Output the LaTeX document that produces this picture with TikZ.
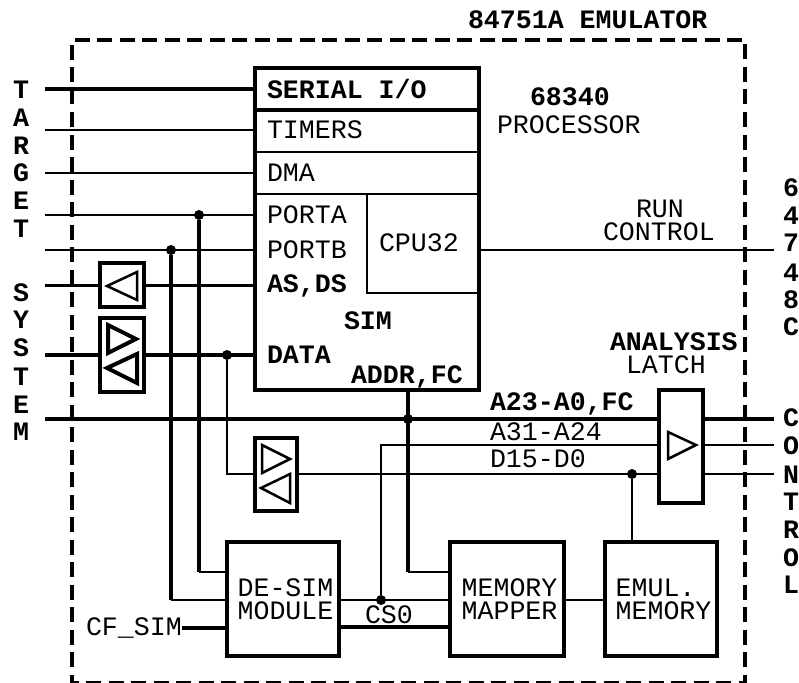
\documentclass[tikz,border=0pt]{standalone}
\usepackage{fontspec}
\setmainfont{Liberation Mono}
\usepackage{tikz}
\usetikzlibrary{positioning}
\tikzset{
  blockbox/.style={rectangle,draw=black,line width=4pt,outer sep=0pt,inner sep=0pt,align=left,font=\fontsize{26.6}{23}\selectfont},
  buffbox/.style={rectangle,draw=black,line width=4pt,outer sep=0pt,inner sep=0pt},
  txt/.style={inner sep=0pt,outer sep=0pt,anchor=west,font=\fontsize{26.6}{23}\selectfont},
  txtb/.style={txt,font=\fontsize{26.6}{23}\selectfont\bfseries},
  vtxt/.style={inner sep=0pt,outer sep=0pt,font=\fontsize{26.6}{23}\selectfont\bfseries},
  dot/.style={circle,fill=black,inner sep=0pt,minimum size=10pt},
  thinwire/.style={line width=2.3pt,draw=black},
  thickwire/.style={line width=4pt,draw=black},
  tri/.style={line width=2.5pt,draw=black,line join=miter},
  trib/.style={line width=4pt,draw=black,line join=miter},
  frame/.style={line width=4pt,draw=black,dash pattern=on 15pt off 7.5pt}
}
\begin{document}
\begin{tikzpicture}[x=1pt,y=-1pt]
  \useasboundingbox (0,0) rectangle (799,682);
  \draw[frame] (72,60) -- (72,40) -- (745,40) -- (745,683) -- (72,683) -- cycle;
  \node[txtb] (title) at (468,20) {84751A EMULATOR};

  % processor block
  \node[blockbox,minimum width=224pt,minimum height=322pt] (chip) at (367,229) {};
  \coordinate (divA) at (255,110);
  \coordinate (divB) at (255,152);
  \coordinate (divC) at (255,194);
  \draw[thickwire] (divA) -- (divA -| chip.east);
  \draw[thinwire] (divB) -- (divB -| chip.east);
  \draw[thinwire] (divC) -- (divC -| chip.east);
  \coordinate (cpuA) at (367,194);
  \coordinate (cpuB) at (367,293);
  \draw[thinwire] (cpuA) -- (cpuB) -- (cpuB -| chip.east);
  \node[txtb] (serial) at (267,89) {SERIAL I/O};
  \node[txt] (timers) at (267,130) {TIMERS};
  \node[txt] (dma) at (267,173) {DMA};
  \node[txt] (porta) at (267,215) {PORTA};
  \node[txt] (portb) at (267,250) {PORTB};
  \node[txtb] (asds) at (267,286) {AS,DS};
  \node[txtb] (sim) at (344,321) {SIM};
  \node[txtb] (data) at (267,355) {DATA};
  \node[txtb] (addr) at (351,377) {ADDR,FC};
  \node[txt] (cpu) at (379,243) {CPU32};
  \node[txtb] (proca) at (530,97) {68340};
  \node[txt] (procb) at (497,125) {PROCESSOR};
  \node[txt] (runa) at (636,209) {RUN};
  \node[txt] (runb) at (603,232) {CONTROL};
  \node[txtb] (lata) at (610,342) {ANALYSIS};
  \node[txt] (latb) at (626,365) {LATCH};
  \node[txtb] (busa) at (490,404) {A23-A0,FC};
  \node[txt] (busb) at (490,432) {A31-A24};
  \node[txt] (busc) at (490,459) {D15-D0};

  % lower blocks
  \node[blockbox,minimum width=112pt,minimum height=114pt] (desim) at (283,599) {\hspace*{5pt}DE-SIM\\\hspace*{5pt}MODULE};
  \node[blockbox,minimum width=114pt,minimum height=114pt] (mapper) at (507,599) {\hspace*{5pt}MEMORY\\\hspace*{5pt}MAPPER};
  \node[blockbox,minimum width=112pt,minimum height=114pt] (emul) at (661,599) {\hspace*{5pt}EMUL.\\\hspace*{5pt}MEMORY};
  \node[txt] (cfsim) at (86,628) {CF\_SIM};
  \node[txt] (csel) at (365,615) {CS0};

  % buffers and latch
  \node[buffbox,minimum width=44pt,minimum height=44pt] (buffa) at (122,285) {};
  \node[buffbox,minimum width=44pt,minimum height=74pt] (buffb) at (122,355) {};
  \node[buffbox,minimum width=42pt,minimum height=73pt] (buffc) at (276,474.5) {};
  \node[buffbox,minimum width=44pt,minimum height=113pt] (latch) at (681,446.5) {};
  \draw[tri] (107,286) -- (137,272) -- (137,300) -- cycle;
  \draw[trib] (108,325) -- (136,339) -- (108,353) -- cycle;
  \draw[trib] (107,368) -- (137,354) -- (137,383) -- cycle;
  \draw[tri] (262,445) -- (290,459) -- (262,473) -- cycle;
  \draw[tri] (261,488) -- (290,474) -- (290,503) -- cycle;
  \draw[tri] (668,432) -- (696,445) -- (668,459) -- cycle;

  % left side wires
  \coordinate (tgtA) at (45,89.5);
  \coordinate (tgtB) at (45,130);
  \coordinate (tgtC) at (45,173);
  \coordinate (tgtD) at (45,215);
  \coordinate (tgtE) at (45,250);
  \coordinate (sysA) at (45,285.5);
  \coordinate (sysB) at (45,355);
  \coordinate (sysC) at (45,419);
  \draw[thickwire] (tgtA) -- (tgtA -| chip.west);
  \draw[thinwire] (tgtB) -- (tgtB -| chip.west);
  \draw[thinwire] (tgtC) -- (tgtC -| chip.west);
  \draw[thinwire] (tgtD) -- (tgtD -| chip.west);
  \draw[thinwire] (tgtE) -- (tgtE -| chip.west);
  \draw[thinwire] (sysA) -- (sysA -| buffa.west);
  \draw[thinwire] (sysA -| buffa.east) -- (sysA -| chip.west);
  \draw[thickwire] (sysB) -- (sysB -| buffb.west);
  \draw[thickwire] (sysB -| buffb.east) -- (sysB -| chip.west);
  \draw[thickwire] (sysC) -- (sysC -| latch.west);

  % junctions and drops
  \node[dot] (dotA) at (199,215) {};
  \node[dot] (dotB) at (171,250) {};
  \node[dot] (dotC) at (227,355) {};
  \node[dot] (dotD) at (408,419) {};
  \node[dot] (dotE) at (632,474) {};
  \node[dot] (dotF) at (381,600) {};
  \coordinate (dropA) at (199,572);
  \coordinate (dropB) at (171,600);
  \coordinate (dropC) at (408,572);
  \coordinate (dropD) at (227,474);
  \coordinate (dropE) at (381,445);
  \draw[thickwire] (dotA) -- (dropA);
  \draw[thinwire] (dropA) -- (dropA -| desim.west);
  \draw[thickwire] (dotB) -- (dropB);
  \draw[thinwire] (dropB) -- (dropB -| desim.west);
  \draw[thickwire] (dotD |- chip.south) -- (dropC);
  \draw[thinwire] (dropC) -- (dropC -| mapper.west);
  \draw[thinwire] (dotC) -- (dropD) -- (dropD -| buffc.west);
  \draw[thinwire] (dotF) -- (dropE) -- (dropE -| latch.west);
  \draw[thinwire] (dropD -| buffc.east) -- (dropD -| latch.west);
  \draw[thinwire] (dotE) -- (dotE |- emul.north);
  \draw[thickwire] (cfsim.east) -- (cfsim.east -| desim.west);

  % lower block links
  \coordinate (linkA) at (339,600);
  \coordinate (linkB) at (339,627);
  \draw[thinwire] (linkA) -- (linkA -| mapper.west);
  \draw[thickwire] (linkB) -- (linkB -| mapper.west);
  \draw[thinwire] (linkA -| mapper.east) -- (linkA -| emul.west);

  % right side wires
  \coordinate (outA) at (774,250);
  \coordinate (outB) at (774,419);
  \coordinate (outC) at (774,445);
  \coordinate (outD) at (774,474);
  \draw[thinwire] (outA -| chip.east) -- (outA);
  \draw[thickwire] (outB -| latch.east) -- (outB);
  \draw[thinwire] (outC -| latch.east) -- (outC);
  \draw[thinwire] (outD -| latch.east) -- (outD);

  % side lettering
  \foreach \ch/\yy [count=\i] in {T/90,A/118,R/146,G/173,E/201,T/229} {\node[vtxt] (tgt\i) at (21,\yy) {\ch};}
  \foreach \ch/\yy [count=\i] in {S/293,Y/320,S/348,T/377,E/405,M/432} {\node[vtxt] (sys\i) at (21,\yy) {\ch};}
  \foreach \ch/\yy [count=\i] in {6/188,4/216,7/243,4/273,8/300,C/327} {\node[vtxt] (pod\i) at (791,\yy) {\ch};}
  \foreach \ch/\yy [count=\i] in {C/418,O/446,N/475,T/502,R/530,O/558,L/585} {\node[vtxt] (ctl\i) at (791,\yy) {\ch};}
\end{tikzpicture}
\end{document}
